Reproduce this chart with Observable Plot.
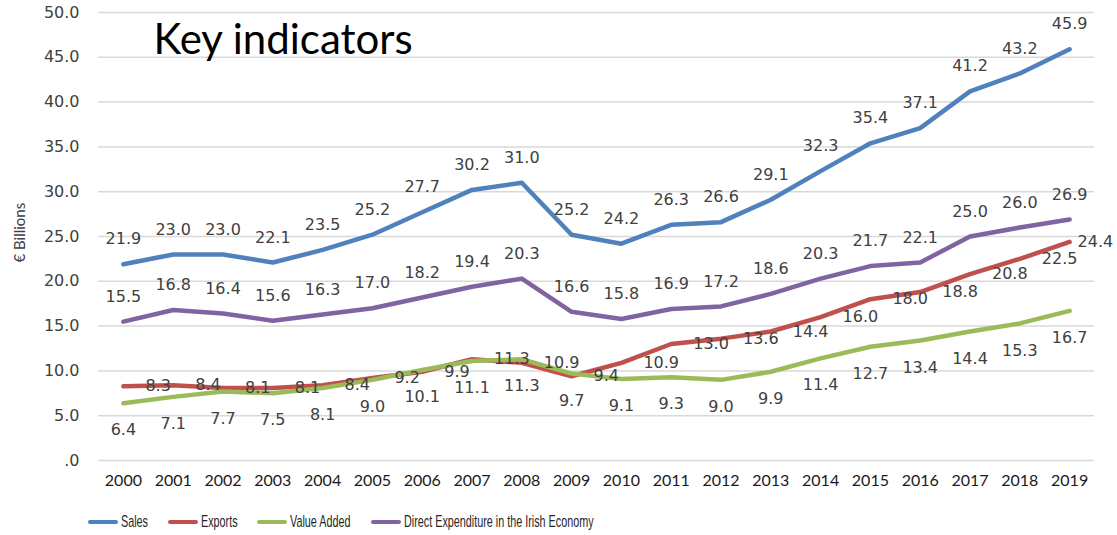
<!DOCTYPE html>
<html><head><meta charset="utf-8">
<script src="https://cdn.jsdelivr.net/npm/d3@7"></script>
<script src="https://cdn.jsdelivr.net/npm/@observablehq/plot@0.6"></script>
<style>
body{margin:0;background:#fff;}
#chart svg{display:block;}
#legend{display:flex;align-items:center;height:44px;padding-left:88px;font-family:"Liberation Sans",sans-serif;font-size:17px;color:#262626;}
.item{display:flex;align-items:center;margin-right:20px;}
.sw{width:30px;height:4px;border-radius:2px;margin-right:3px;}
.lt{display:inline-block;transform:scaleX(0.635);transform-origin:left center;white-space:nowrap;}
</style></head><body>
<div id="chart"></div>
<div id="legend"></div>
<script>
const years = [2000,2001,2002,2003,2004,2005,2006,2007,2008,2009,2010,2011,2012,2013,2014,2015,2016,2017,2018,2019];
const sales = [21.9,23.0,23.0,22.1,23.5,25.2,27.7,30.2,31.0,25.2,24.2,26.3,26.6,29.1,32.3,35.4,37.1,41.2,43.2,45.9];
const exportsV = [8.3,8.4,8.1,8.1,8.4,9.2,9.9,11.3,10.9,9.4,10.9,13.0,13.6,14.4,16.0,18.0,18.8,20.8,22.5,24.4];
const valueAdded = [6.4,7.1,7.7,7.5,8.1,9.0,10.1,11.1,11.3,9.7,9.1,9.3,9.0,9.9,11.4,12.7,13.4,14.4,15.3,16.7];
const directExp = [15.5,16.8,16.4,15.6,16.3,17.0,18.2,19.4,20.3,16.6,15.8,16.9,17.2,18.6,20.3,21.7,22.1,25.0,26.0,26.9];
const seriesNames = ["Sales","Exports","Value Added","Direct Expenditure in the Irish Economy"];
const seriesColors = ["#4f81bd","#c0504d","#9bbb59","#8064a2"];
const yTicks = [0,5,10,15,20,25,30,35,40,45,50];
const title = "Key indicators";
const yLabel = "€ Billions";

const rows = (name, vals) => years.map((year, i) => ({year, value: vals[i], series: name}));
const dSales = rows(seriesNames[0], sales);
const dExports = rows(seriesNames[1], exportsV);
const dVA = rows(seriesNames[2], valueAdded);
const dDir = rows(seriesNames[3], directExp);
const fmt = d => d.value.toFixed(1);
const labelFont = {fontFamily: "DejaVu Sans", fontSize: 16, fill: "#404040"};

const chart = Plot.plot({
  width: 1117,
  height: 500,
  marginLeft: 98,
  marginRight: 23,
  marginTop: 12,
  marginBottom: 40,
  x: {type: "linear", domain: [1999.5, 2019.5]},
  y: {domain: [0, 50]},
  color: {domain: seriesNames, range: seriesColors},
  marks: [
    Plot.gridY(yTicks, {stroke: "#d9d9d9", strokeOpacity: 1, strokeWidth: 1.5}),
    Plot.axisY(yTicks, {tickSize: 0, tickPadding: 19, tickFormat: d => d === 0 ? ".0" : d.toFixed(1), fontSize: 16, fontFamily: "DejaVu Sans", fill: "#404040", label: null}),
    Plot.axisX(years, {tickSize: 0, tickPadding: 14, tickFormat: d => String(d), fontSize: 16, fontFamily: "Lato", fill: "#1a1a1a", label: null}),
    Plot.text([yLabel], {frameAnchor: "left", dx: -78, dy: 26, rotate: -90, fontSize: 15, fontFamily: "Lato", fill: "#404040"}),
    Plot.text([title], {frameAnchor: "top-left", dx: 55, dy: 28, textAnchor: "start", lineAnchor: "middle", fontSize: 42, fontFamily: "Lato", fill: "#000"}),
    ...[dSales, dExports, dVA, dDir].map(d => Plot.line(d, {x: "year", y: "value", stroke: "series", strokeWidth: 4.5})),
    Plot.text(dSales, {x: "year", y: "value", text: fmt, dy: -25, ...labelFont}),
    Plot.text(dDir, {x: "year", y: "value", text: fmt, dy: -25, ...labelFont}),
    Plot.text(dExports.slice(0, -1), {x: "year", y: "value", text: fmt, dx: 22, textAnchor: "start", ...labelFont}),
    Plot.text(dExports.slice(-1), {x: "year", y: "value", text: fmt, dx: 8, textAnchor: "start", ...labelFont}),
    Plot.text(dVA, {x: "year", y: "value", text: fmt, dy: 27, ...labelFont})
  ]
});
document.getElementById("chart").appendChild(chart);

const legend = document.getElementById("legend");
seriesNames.forEach((name, i) => {
  const item = document.createElement("div");
  item.className = "item";
  const sw = document.createElement("span");
  sw.className = "sw";
  sw.style.background = seriesColors[i];
  const t = document.createElement("span");
  t.className = "lt";
  t.textContent = name;
  item.appendChild(sw);
  item.appendChild(t);
  legend.appendChild(item);
  const w = t.offsetWidth;
  t.style.marginRight = (-w * 0.365) + "px";
});
</script>
</body></html>
